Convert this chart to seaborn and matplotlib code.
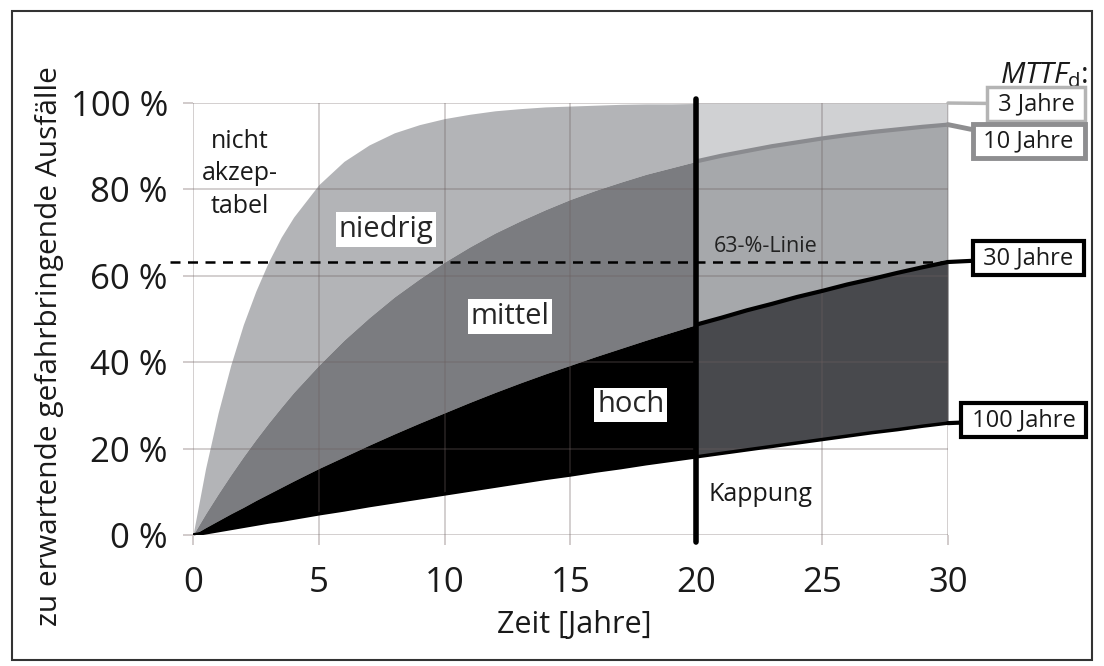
import matplotlib
matplotlib.use("Agg")
import matplotlib.pyplot as plt
import seaborn as sns
import pandas as pd
import numpy as np

jahre = [0, 0.5, 1, 1.5, 2, 2.5, 3, 3.5, 4, 5, 6, 7, 8, 9, 10, 11, 12, 13, 14, 15,
         16, 17, 18, 19, 20, 21, 22, 23, 24, 25, 26, 27, 28, 29, 30]
mttf_3 = [0, 15.4, 28.3, 39.3, 48.7, 56.5, 63.2, 68.9, 73.6, 81.1, 86.5, 90.3, 93.1, 95.0,
          96.4, 97.4, 98.2, 98.7, 99.1, 99.3, 99.5, 99.7, 99.8, 99.8, 99.9, 99.9, 99.9,
          100, 100, 100, 100, 100, 100, 100, 100]
mttf_10 = [0, 4.9, 9.5, 13.9, 18.1, 22.1, 25.9, 29.5, 33.0, 39.3, 45.1, 50.3, 55.1, 59.3,
           63.2, 66.7, 69.9, 72.7, 75.3, 77.7, 79.8, 81.7, 83.5, 85.0, 86.5, 87.8, 88.9,
           90.0, 90.9, 91.8, 92.6, 93.3, 93.9, 94.5, 95.0]
mttf_30 = [0, 1.7, 3.3, 4.9, 6.4, 8.0, 9.5, 11.0, 12.5, 15.4, 18.1, 20.8, 23.4, 25.9,
           28.3, 30.7, 33.0, 35.2, 37.3, 39.3, 41.3, 43.2, 45.1, 46.9, 48.7, 50.3, 52.0,
           53.5, 55.1, 56.5, 58.0, 59.3, 60.7, 62.0, 63.2]
mttf_100 = [0, 0.5, 1.0, 1.5, 2.0, 2.5, 3.0, 3.4, 3.9, 4.9, 5.8, 6.8, 7.7, 8.6, 9.5, 10.4,
            11.3, 12.2, 13.1, 13.9, 14.8, 15.6, 16.5, 17.3, 18.1, 18.9, 19.7, 20.5, 21.3,
            22.1, 22.9, 23.7, 24.4, 25.2, 25.9]
kappung = 20
linie_63 = 63.2

x_ticks = [0, 5, 10, 15, 20, 25, 30]
y_ticks = [0, 20, 40, 60, 80, 100]
y_ticklabels = ["0 %", "20 %", "40 %", "60 %", "80 %", "100 %"]

df = pd.DataFrame({"jahr": jahre, "m3": mttf_3, "m10": mttf_10,
                   "m30": mttf_30, "m100": mttf_100})

sns.set_theme(style="white")
plt.rcParams["font.family"] = ["Open Sans", "DejaVu Sans"]
plt.rcParams["mathtext.fontset"] = "custom"
plt.rcParams["mathtext.it"] = "Open Sans:italic"
plt.rcParams["mathtext.rm"] = "Open Sans"

fig = plt.figure(figsize=(11.04, 6.66), dpi=100)
ax = fig.add_axes([0.1748, 0.1967, 0.6839, 0.6486])

links = df["jahr"] <= kappung
rechts = df["jahr"] >= kappung
oben = np.full(len(df), 100.0)

# Bereiche bis zur Kappung
ax.fill_between(df["jahr"], df["m10"], df["m3"], where=links, color="#b3b4b7", lw=0, zorder=1)
ax.fill_between(df["jahr"], df["m30"], df["m10"], where=links, color="#7b7c80", lw=0, zorder=1)
ax.fill_between(df["jahr"], df["m100"], df["m30"], where=links, color="black", lw=0, zorder=1)
# Bereiche nach der Kappung
ax.fill_between(df["jahr"], df["m10"], oben, where=rechts, color="#d0d1d3", lw=0, zorder=1)
ax.fill_between(df["jahr"], df["m30"], df["m10"], where=rechts, color="#a6a8ab", lw=0, zorder=1)
ax.fill_between(df["jahr"], df["m100"], df["m30"], where=rechts, color="#48494d", lw=0, zorder=1)

ax.set_xlim(0, 30)
ax.set_ylim(0, 100)
ax.set_xticks(x_ticks)
ax.set_yticks(y_ticks)
ax.set_yticklabels(y_ticklabels)
ax.tick_params(axis="both", length=7.5, width=1.2, color="#c9c2c2", direction="out",
               bottom=True, left=True, labelcolor="#1a1a1a", labelsize=25)
ax.tick_params(axis="x", pad=14.5)
ax.tick_params(axis="y", pad=10.5)
ax.set_axisbelow(False)
ax.grid(True, color="#6b5f5f", alpha=0.35, lw=1.2)
for s in ax.spines.values():
    s.set_visible(False)

# Kurven nach der Kappung
r = df[rechts]
sns.lineplot(x=r["jahr"], y=r["m10"], ax=ax, color="#8a8b8f", lw=3, zorder=3)
sns.lineplot(x=r["jahr"], y=r["m30"], ax=ax, color="black", lw=3, zorder=3)
sns.lineplot(x=df["jahr"], y=df["m100"], ax=ax, color="black", lw=2.5, zorder=3)

# Kappung und 63-%-Linie
ax.plot([kappung, kappung], [-1.7, 101], color="black", lw=4, clip_on=False, zorder=4)
ax.plot([-0.9, 30], [linie_63, linie_63], color="black", lw=1.8, ls=(0, (4, 3)),
        clip_on=False, zorder=4)
ax.text(20.7, 66.8, "63-%-Linie", fontsize=15.5, color="#222222", va="center", zorder=5)
ax.text(20.5, 9.3, "Kappung", fontsize=18, color="#1a1a1a", va="center", zorder=5)

# Bereichsbeschriftungen
ax.text(1.87, 83.6, "nicht\nakzep-\ntabel", fontsize=18, ha="center", va="center",
        linespacing=1.38, color="#1a1a1a", zorder=5)
box = dict(boxstyle="square,pad=0.1", fc="white", ec="none")
ax.text(7.67, 70.8, "niedrig", fontsize=21, ha="center", va="center", bbox=box, zorder=5)
ax.text(12.6, 50.5, "mittel", fontsize=21, ha="center", va="center", bbox=box, zorder=5)
ax.text(17.4, 30.1, "hoch", fontsize=21, ha="center", va="center", bbox=box, zorder=5)

# MTTFd-Beschriftungen rechts
etiketten = [(" 3 Jahre ", mttf_3[-1], 33.5, 99.8, "#b4b4b4", 2.5),
             (" 10 Jahre ", mttf_10[-1], 33.2, 91.2, "#8e8e90", 3.5),
             (" 30 Jahre ", mttf_30[-1], 33.2, 64.1, "black", 3),
             (" 100 Jahre ", mttf_100[-1], 33.0, 26.6, "black", 3)]
for txt, wert, tx, ty, farbe, breite in etiketten:
    ax.annotate(txt, xy=(30, wert), xytext=(tx, ty), fontsize=17, ha="center", va="center",
                color="#1a1a1a", annotation_clip=False, zorder=6,
                bbox=dict(boxstyle="square,pad=0.2", fc="white", ec=farbe, lw=breite),
                arrowprops=dict(arrowstyle="-", color=farbe, lw=breite,
                                shrinkA=0, shrinkB=0))
ax.text(35.55, 106.5, r"$MTTF_{\rm d}$:", fontsize=21, ha="right", va="center",
        color="#1a1a1a", clip_on=False)

ax.set_xlabel("Zeit [Jahre]", fontsize=22, color="#1a1a1a")
ax.xaxis.set_label_coords(0.505, -0.227)
ax.xaxis.label.set_va("baseline")
ax.set_ylabel("zu erwartende gefahrbringende Ausfälle", fontsize=21.5, color="#1a1a1a")
ax.yaxis.set_label_coords(-0.19, 0.4375)
ax.yaxis.label.set_va("center")

# Rahmen um die ganze Grafik
fig.patches.append(plt.Rectangle((0.011, 0.009), 0.978, 0.974, transform=fig.transFigure,
                                 fill=False, ec="#333333", lw=1.5))

fig.savefig("out.png", dpi=100)
